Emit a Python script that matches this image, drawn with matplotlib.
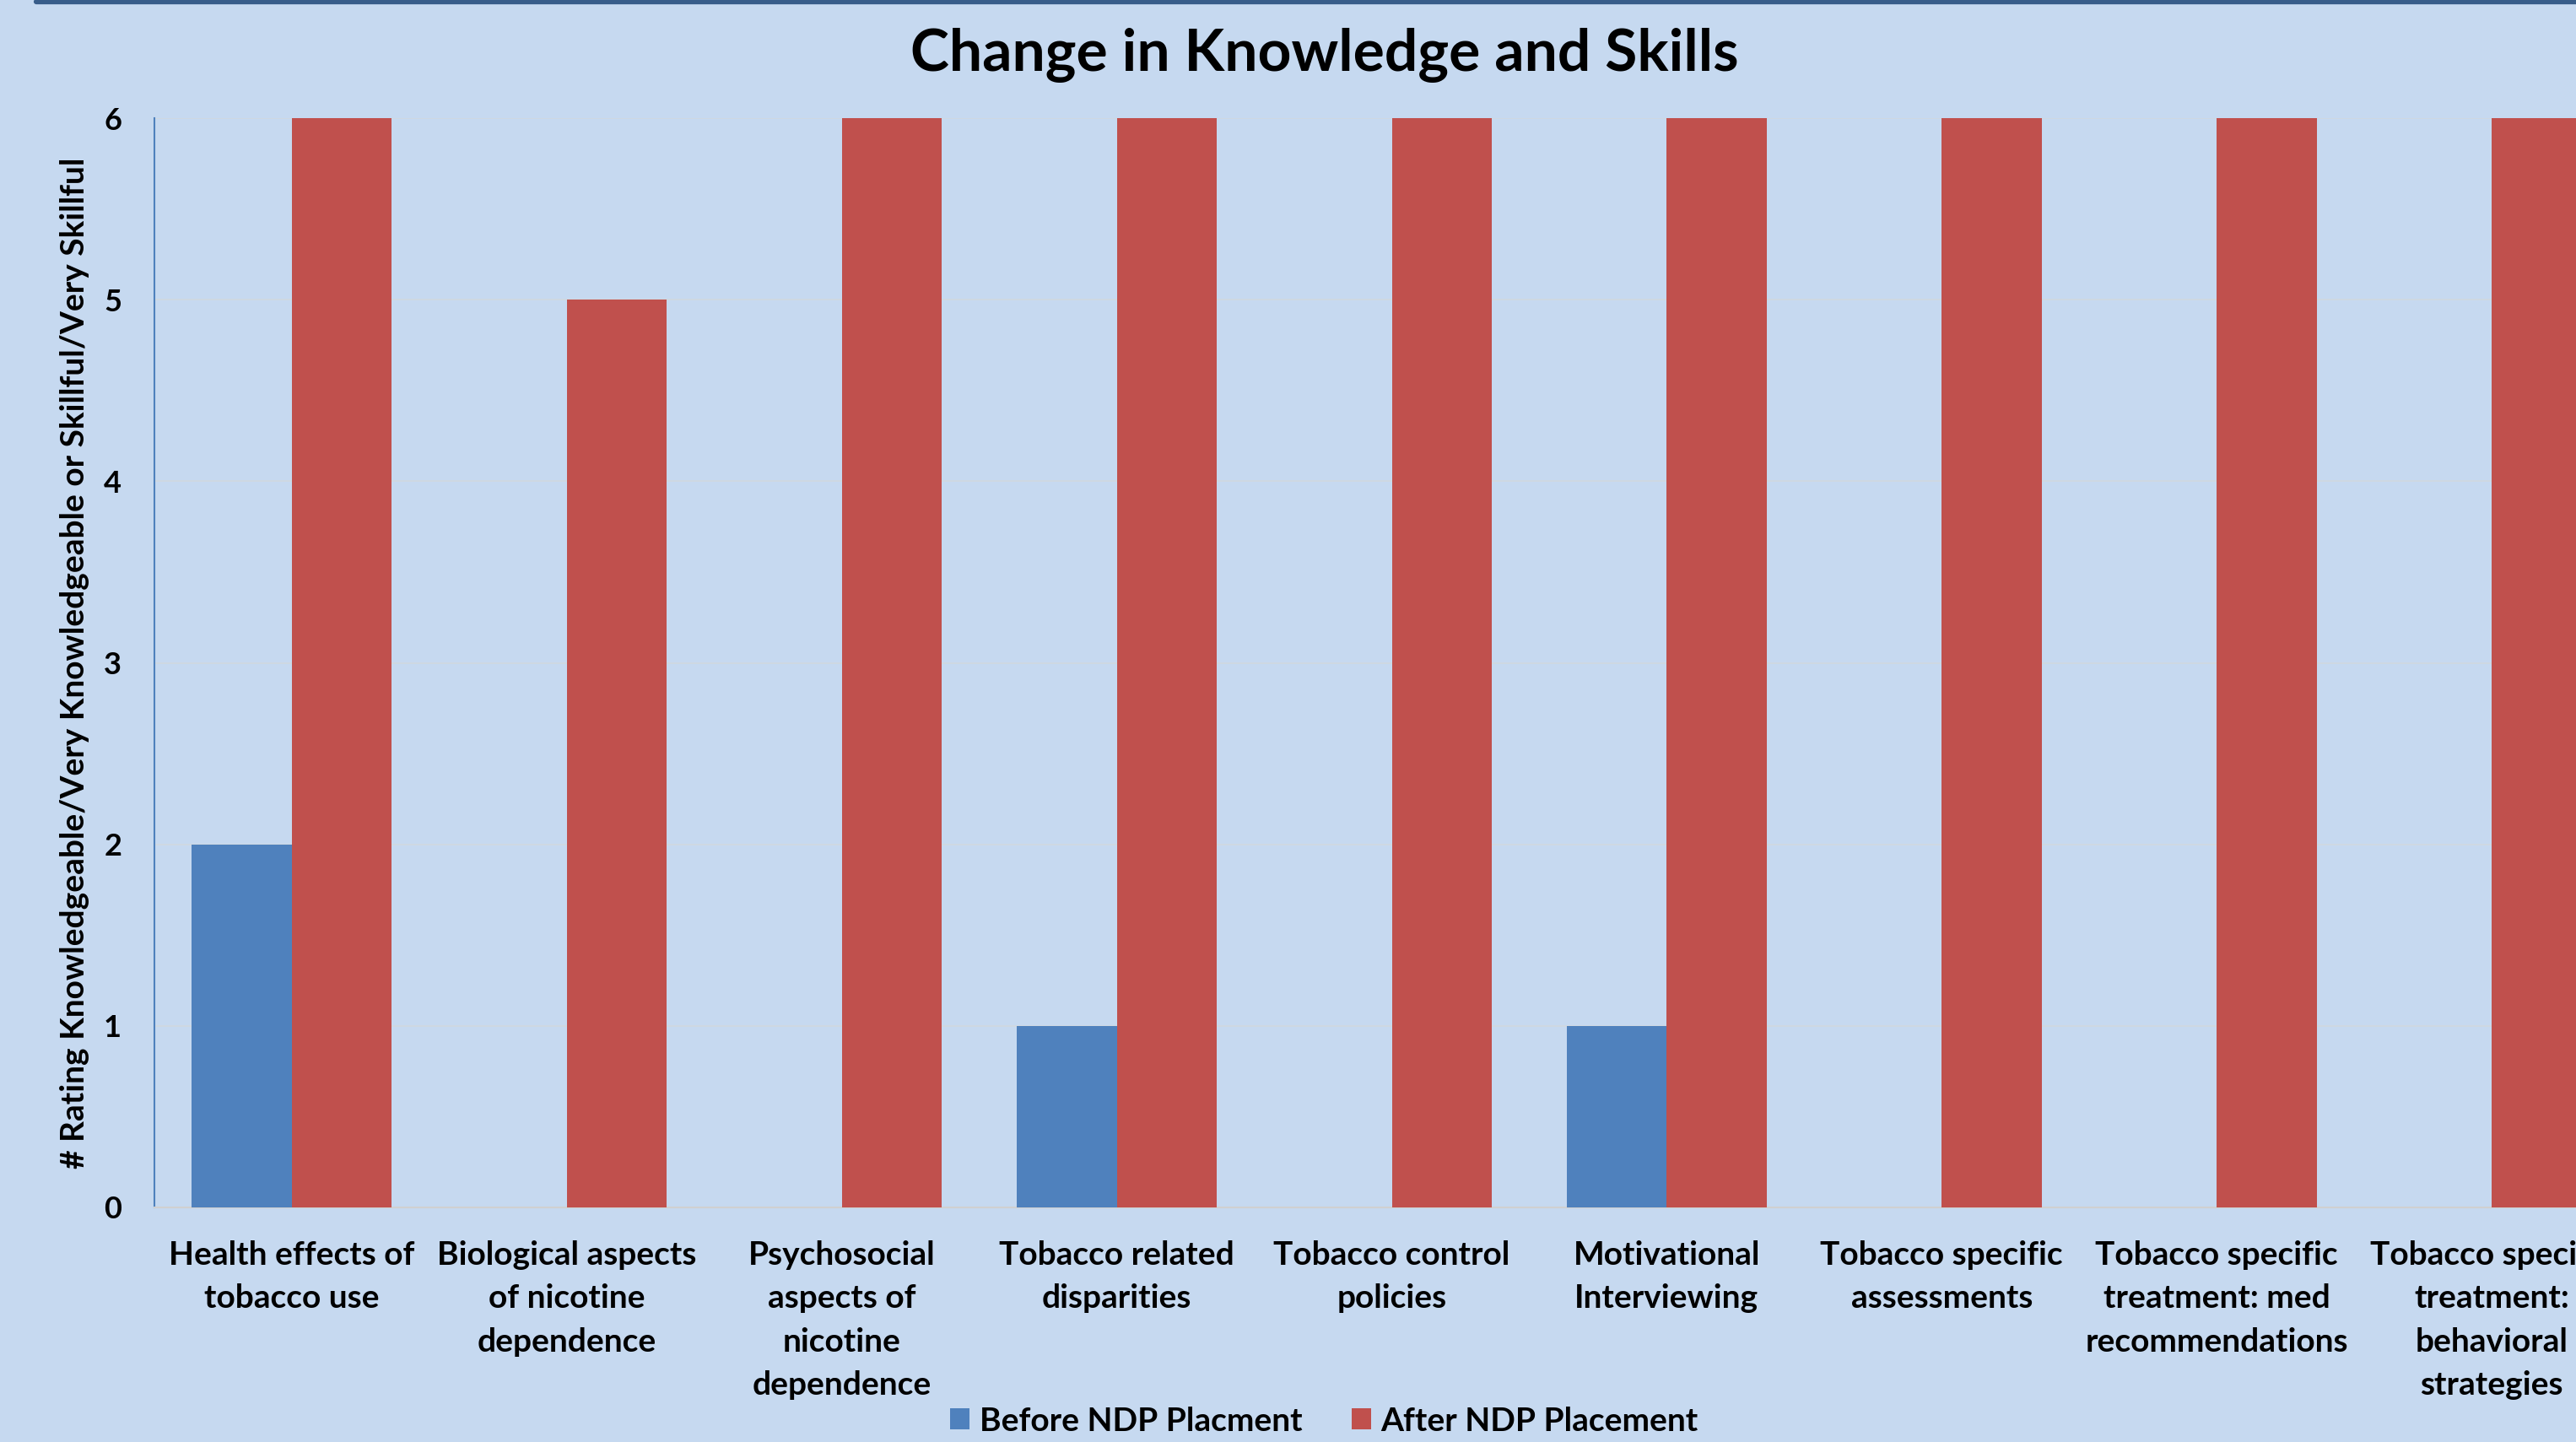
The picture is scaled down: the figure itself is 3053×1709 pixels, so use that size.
import matplotlib
matplotlib.use("Agg")
import matplotlib.pyplot as plt
from matplotlib.lines import Line2D
import numpy as np

categories = [
    "Health effects of\ntobacco use",
    "Biological aspects\nof nicotine\ndependence",
    "Psychosocial\naspects of\nnicotine\ndependence",
    "Tobacco related\ndisparities",
    "Tobacco control\npolicies",
    "Motivational\nInterviewing",
    "Tobacco specific\nassessments",
    "Tobacco specific\ntreatment: med\nrecommendations",
    "Tobacco specific\ntreatment:\nbehavioral\nstrategies",
]
before = [2, 0, 0, 1, 0, 1, 0, 0, 0]
after = [6, 5, 6, 6, 6, 6, 6, 6, 6]
series_names = ["Before NDP Placment", "After NDP Placement"]
yticks = [0, 1, 2, 3, 4, 5, 6]

BG = "#C6D9F0"
BLUE = "#4F81BD"
RED = "#C0504D"
FONT = ["Lato", "DejaVu Sans"]

W, H = 3053, 1709
fig = plt.figure(figsize=(W / 100, H / 100), dpi=100, facecolor=BG)

left, right, top, bottom = 183, 3116, 140, 1431
ax = fig.add_axes([left / W, 1 - bottom / H, (right - left) / W, (bottom - top) / H])
ax.set_facecolor(BG)

x = np.arange(len(categories))
bw = 1 / 2.75
ax.bar(x - bw / 2, before, width=bw, color=BLUE, label=series_names[0], zorder=3)
ax.bar(x + bw / 2, after, width=bw, color=RED, label=series_names[1], zorder=3)

ax.set_xlim(-0.5, len(categories) - 0.5)
ax.set_ylim(0, 6)
ax.set_yticks(yticks)
ax.set_yticklabels([str(v) for v in yticks], fontsize=26, fontweight="bold", family=FONT)
ax.set_xticks(x)
ax.set_xticklabels(categories, fontsize=28, fontweight="bold", family=FONT, linespacing=1.57)
ax.tick_params(axis="both", length=0)
ax.tick_params(axis="y", pad=28)
ax.tick_params(axis="x", pad=28)
ax.yaxis.grid(True, color="#D0D8E0", linewidth=1.2, zorder=0)
ax.set_axisbelow(True)

for s in ["top", "right"]:
    ax.spines[s].set_visible(False)
ax.spines["left"].set_color(BLUE)
ax.spines["left"].set_linewidth(1.5)
ax.spines["bottom"].set_color("#D0D0D0")
ax.spines["bottom"].set_linewidth(1.5)

ax.set_ylabel("# Rating Knowledgeable/Very Knowledgeable or Skillful/Very Skillful",
              fontsize=28, fontweight="bold", family=FONT)
ax.yaxis.set_label_coords(-(183 - 106) / (right - left), 0.5)

fig.text(1570 / W, 1 - 66 / H, "Change in Knowledge and Skills", ha="center", va="center",
         fontsize=50, fontweight="bold", family=FONT)

fig.legend(loc="center", bbox_to_anchor=(806 * 1.947 / W, 1 - 1684 / H), ncol=2,
           frameon=False, prop={"family": FONT, "weight": "bold", "size": 28},
           handlelength=0.6, handleheight=0.6, handletextpad=0.3, columnspacing=1.5)

fig.add_artist(Line2D([43 / W, 1], [1 - 2 / H, 1 - 2 / H], transform=fig.transFigure,
                      color="#385D8A", linewidth=4.5, solid_capstyle="round"))

fig.savefig("out.png", dpi=100, facecolor=BG)
